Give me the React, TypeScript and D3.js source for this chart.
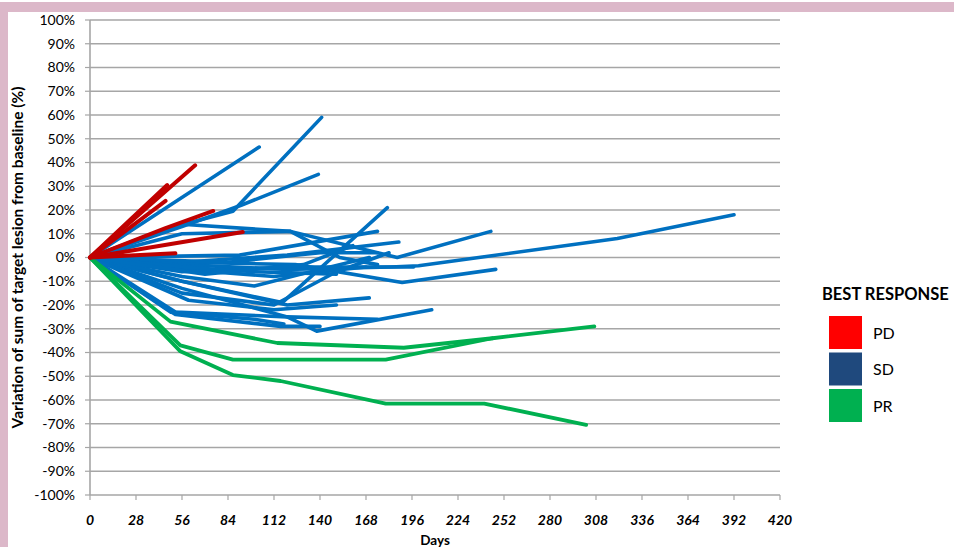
import React from "react";
import * as d3 from "d3";

// days vs % change from baseline, one array of [day, pct] per patient
const pdSeries: [number, number][][] = [
  [[0, 0], [47, 30.5]],
  [[0, 0], [64, 38.8]],
  [[0, 0], [46, 23.8]],
  [[0, 0], [46, 12.4], [75, 19.6]],
  [[0, 0], [93, 10.7]],
  [[0, 0], [52, 1.8]],
];

const sdSeries: [number, number][][] = [
  [[0, 0], [103, 46.5]],
  [[0, 0], [46, 12], [87, 19.5], [141, 59]],
  [[0, 0], [56, 13], [92, 22], [139, 35]],
  [[0, 0], [56, 14], [122, 11], [152, 0], [175, -3]],
  [[0, 0], [56, 10], [122, 11], [187, 0], [244, 11]],
  [[0, 0], [56, -10], [117, -19], [181, 21]],
  [[0, 0], [91, 1], [175, 11]],
  [[0, 0], [56, -2], [120, 1], [188, 6.5]],
  [[0, 0], [56, -3], [120, -5], [183, -4], [200, -3.5], [321, 8], [392, 18]],
  [[0, 0], [56, -6], [120, -4], [197, -4]],
  [[0, 0], [56, -2], [125, -3], [190, -10.5], [247, -5]],
  [[0, 0], [56, -13], [120, -25], [138, -31], [208, -22]],
  [[0, 0], [56, -10], [120, -20], [170, -17]],
  [[0, 0], [52, -23], [120, -25], [175, -26]],
  [[0, 0], [52, -24], [116, -29], [140, -29]],
  [[0, 0], [49, -23], [100, -26], [118, -28]],
  [[0, 0], [56, -5], [112, -8], [168, -4]],
  [[0, 0], [84, -2], [140, 2], [175, 2]],
  [[0, 0], [56, -15], [112, -20], [150, -6], [182, 2]],
  [[0, 0], [56, -8], [100, -12], [140, -5], [170, 0]],
  [[0, 0], [60, -18], [112, -22], [150, -20]],
  [[0, 0], [56, -4], [100, -6], [150, -7]],
  [[0, 0], [70, -7], [130, -3], [160, 5]],
];

const prSeries: [number, number][][] = [
  [[0, 0], [49, -27], [114, -36], [191, -38], [245, -34]],
  [[0, 0], [55, -37], [87, -43], [180, -43], [245, -34], [307, -29]],
  [[0, 0], [55, -39.5], [87, -49.5], [116, -52], [180, -61.5], [240, -61.5], [302, -70.5]],
];

const xTicks = [0, 28, 56, 84, 112, 140, 168, 196, 224, 252, 280, 308, 336, 364, 392, 420];
const yTicks = [100, 90, 80, 70, 60, 50, 40, 30, 20, 10, 0, -10, -20, -30, -40, -50, -60, -70, -80, -90, -100];

const legendItems = ["PD", "SD", "PR"];
const legendColors = ["#ff0000", "#1f497d", "#00b050"];

const W = 954;
const H = 547;
const font = "Lato, 'Open Sans', sans-serif";

export default function App() {
  const x = d3.scaleLinear().domain([0, 420]).range([90, 780]);
  const y = d3.scaleLinear().domain([-100, 100]).range([495, 20]);
  const line = d3
    .line<[number, number]>()
    .x((d) => x(d[0]))
    .y((d) => y(d[1]));

  const drawGroup = (series: [number, number][][], color: string, w: number) =>
    series.map((s, i) => (
      <path
        key={i}
        d={line(s) || ""}
        fill="none"
        stroke={color}
        strokeWidth={w}
        strokeLinejoin="round"
        strokeLinecap="round"
      />
    ));

  return (
    <svg
      width={W}
      height={H}
      style={{ position: "absolute", left: 0, top: 0, background: "#fff" }}
      fontFamily={font}
    >
      {/* pink frame */}
      <rect x={0} y={2} width={W} height={10} fill="#dcb8c9" />
      <rect x={0} y={2} width={8} height={H} fill="#dcb8c9" />

      {/* gridlines */}
      {yTicks.map((t) => (
        <line key={t} x1={x(0)} x2={x(420)} y1={y(t)} y2={y(t)} stroke="#a6a6a6" strokeWidth={1.6} />
      ))}

      {/* y axis */}
      <line x1={x(0)} x2={x(0)} y1={y(100)} y2={y(-100)} stroke="#a6a6a6" strokeWidth={1.6} />
      {yTicks.map((t) => (
        <g key={t}>
          <line x1={x(0) - 5} x2={x(0)} y1={y(t)} y2={y(t)} stroke="#a6a6a6" strokeWidth={1.2} />
          <text x={75} y={y(t)} dy="0.35em" textAnchor="end" fontSize={14} fill="#000">
            {t}%
          </text>
        </g>
      ))}

      {/* x axis ticks */}
      {xTicks.map((t) => (
        <g key={t}>
          <line x1={x(t)} x2={x(t)} y1={y(-100)} y2={y(-100) + 5} stroke="#a6a6a6" strokeWidth={1.2} />
          <text
            x={x(t)}
            y={525}
            textAnchor="middle"
            fontSize={14}
            fontWeight="bold"
            fontStyle="italic"
            fill="#000"
          >
            {t}
          </text>
        </g>
      ))}

      {/* series */}
      {drawGroup(sdSeries, "#0070c0", 3.6)}
      {drawGroup(prSeries, "#00b050", 3.8)}
      {drawGroup(pdSeries, "#c00000", 4)}

      {/* axis titles */}
      <text x={435} y={545} textAnchor="middle" fontSize={13.5} fontWeight="bold">
        Days
      </text>
      <text
        transform={`translate(23,${y(0)}) rotate(-90)`}
        textAnchor="middle"
        fontSize={15.5}
        fontWeight="bold"
      >
        Variation of sum of target lesion from baseline (%)
      </text>

      {/* legend */}
      <text x={822} y={300} fontSize={16.5} fontWeight="bold">
        BEST RESPONSE
      </text>
      {legendItems.map((k, i) => (
        <g key={k} transform={`translate(829,${316 + i * 36.5})`}>
          <rect width={33} height={33} fill={legendColors[i]} />
          <text x={44} y={17} dy="0.35em" fontSize={16}>
            {k}
          </text>
        </g>
      ))}
    </svg>
  );
}
